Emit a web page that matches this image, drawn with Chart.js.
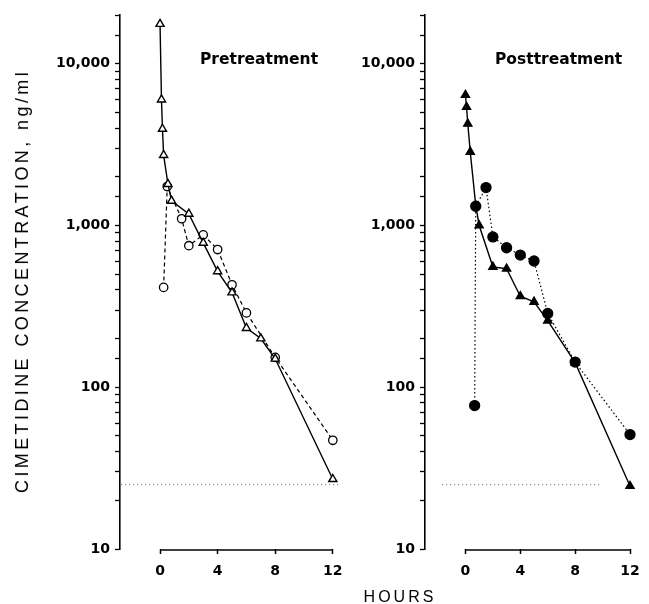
<!DOCTYPE html>
<html>
<head>
<meta charset="utf-8">
<script src="https://cdn.jsdelivr.net/npm/chart.js@4.4.0/dist/chart.umd.min.js"></script>
<style>
  body { margin: 0; background: #fff; }
  #wrap { position: relative; width: 649px; height: 604px; overflow: hidden; }
  #wrap canvas { position: absolute; left: 0; top: 0; }
  .panel { position: absolute; font-family: "DejaVu Sans"; font-weight: bold; font-size: 15.5px; line-height: 1; white-space: nowrap; }
  #ytitle { position: absolute; left: 22px; top: 281px; font-family: "Liberation Sans"; font-size: 18px; letter-spacing: 3.4px;
            white-space: nowrap; line-height: 1; transform: translate(-50%, -50%) rotate(-90deg); }
  #xtitle { position: absolute; left: 400px; top: 589px; font-family: "Liberation Sans"; font-size: 16px; letter-spacing: 3px;
            white-space: nowrap; line-height: 1; transform: translateX(-50%); }
</style>
</head>
<body>
<div id="wrap">
  <canvas id="preChart" width="649" height="604"></canvas>
  <canvas id="postChart" width="649" height="604"></canvas>
  <div class="panel" style="left:200px;top:52px;">Pretreatment</div>
  <div class="panel" style="left:495px;top:52px;">Posttreatment</div>
  <div id="ytitle">CIMETIDINE CONCENTRATION, ng/ml</div>
  <div id="xtitle">HOURS</div>
</div>
<script>
// ---- data (hours, ng/ml) ----
var preTriHours  = [0, 0.1, 0.17, 0.25, 0.55, 0.8, 2, 3, 4, 5, 6, 7, 8, 12];
var preTriConc   = [17600, 6000, 3950, 2720, 1800, 1420, 1180, 780, 520, 385, 232, 200, 150, 27];
var preCircHours = [0.25, 0.5, 1.5, 2, 3, 4, 5, 6, 8, 12];
var preCircConc  = [414, 1740, 1100, 750, 875, 710, 430, 288, 153, 47];

var postTriHours  = [0, 0.08, 0.17, 0.35, 0.75, 1, 2, 3, 4, 5, 6, 8, 12];
var postTriConc   = [6400, 5400, 4250, 2850, 1330, 1000, 555, 540, 365, 337, 258, 142, 24.5];
var postCircHours = [0.67, 0.75, 1.5, 2, 3, 4, 5, 6, 8, 12];
var postCircConc  = [77, 1315, 1715, 850, 728, 656, 603, 286, 143, 51];

var limitConc = 25;
var preLimitHours  = [-2.7, 12.5];
var postLimitHours = [-1.7, 9.8];

var hourTicks = [0, 4, 8, 12];
var concLabels = [10, 100, 1000, 10000];

function pts(xs, ys) {
  return xs.map(function (x, i) { return { x: x, y: ys[i] }; });
}

// x axis line only runs from 0 to 12 h, just under the plot
var hourAxisLine = {
  id: 'hourAxisLine',
  afterDraw: function (chart) {
    var ctx = chart.ctx, xs = chart.scales.x, y = chart.chartArea.bottom + 1;
    ctx.save();
    ctx.strokeStyle = '#000';
    ctx.lineWidth = 1.6;
    ctx.beginPath();
    ctx.moveTo(xs.getPixelForValue(hourTicks[0]), y);
    ctx.lineTo(xs.getPixelForValue(hourTicks[hourTicks.length - 1]), y);
    ctx.stroke();
    ctx.restore();
  }
};

var tickFont = { family: 'DejaVu Sans', weight: 'bold', size: 14 };

function makeConfig(tri, circ, limit, filled, xMin, xMax, padLeft, padRight, yWidth) {
  return {
    type: 'line',
    data: {
      datasets: [{
        data: tri,
        borderColor: '#000',
        borderWidth: 1.4,
        backgroundColor: filled ? '#000' : '#fff',
        pointStyle: 'triangle',
        pointRadius: 4.7,
        pointBorderWidth: 1.4,
        tension: 0
      }, {
        data: circ,
        borderColor: '#000',
        borderWidth: 1.2,
        borderDash: filled ? [1.5, 2.5] : [4, 3],
        backgroundColor: filled ? '#000' : '#fff',
        pointStyle: 'circle',
        pointRadius: filled ? 5 : 4.2,
        pointBorderWidth: 1.3,
        tension: 0
      }, {
        data: limit,
        borderColor: '#666',
        borderWidth: 1,
        borderDash: [1, 3],
        pointRadius: 0
      }]
    },
    options: {
      responsive: false,
      animation: false,
      layout: { padding: { top: 15, left: padLeft, right: padRight, bottom: 0 } },
      plugins: { legend: { display: false }, tooltip: { enabled: false } },
      scales: {
        x: {
          type: 'linear',
          min: xMin,
          max: xMax,
          afterBuildTicks: function (scale) {
            scale.ticks = hourTicks.map(function (v) { return { value: v }; });
          },
          afterFit: function (scale) { scale.height = 55; },
          border: { display: false },
          grid: { drawOnChartArea: false, drawTicks: true, tickLength: 5, tickColor: '#000', tickWidth: 1.5 },
          ticks: { color: '#000', font: tickFont, padding: 9, autoSkip: false, maxRotation: 0 }
        },
        y: {
          type: 'logarithmic',
          min: 10,
          max: 20000,
          afterFit: function (scale) { scale.width = yWidth; },
          border: { display: true, color: '#000', width: 1.6 },
          grid: { drawOnChartArea: false, drawTicks: true, tickLength: 5, tickColor: '#000', tickWidth: 1.3 },
          ticks: {
            color: '#000',
            font: tickFont,
            padding: 5,
            autoSkip: false,
            callback: function (v) {
              return concLabels.indexOf(v) >= 0 ? v.toLocaleString('en-US') : '';
            }
          }
        }
      }
    },
    plugins: [hourAxisLine]
  };
}

var preCfg = makeConfig(
  pts(preTriHours, preTriConc),
  pts(preCircHours, preCircConc),
  pts(preLimitHours, [limitConc, limitConc]),
  false, -2.78, 13.54, 0, 294, 120);

var postCfg = makeConfig(
  pts(postTriHours, postTriConc),
  pts(postCircHours, postCircConc),
  pts(postLimitHours, [limitConc, limitConc]),
  true, -2.95, 12.63, 350, 2, 75);

new Chart(document.getElementById('preChart').getContext('2d'), preCfg);
new Chart(document.getElementById('postChart').getContext('2d'), postCfg);
</script>
</body>
</html>
